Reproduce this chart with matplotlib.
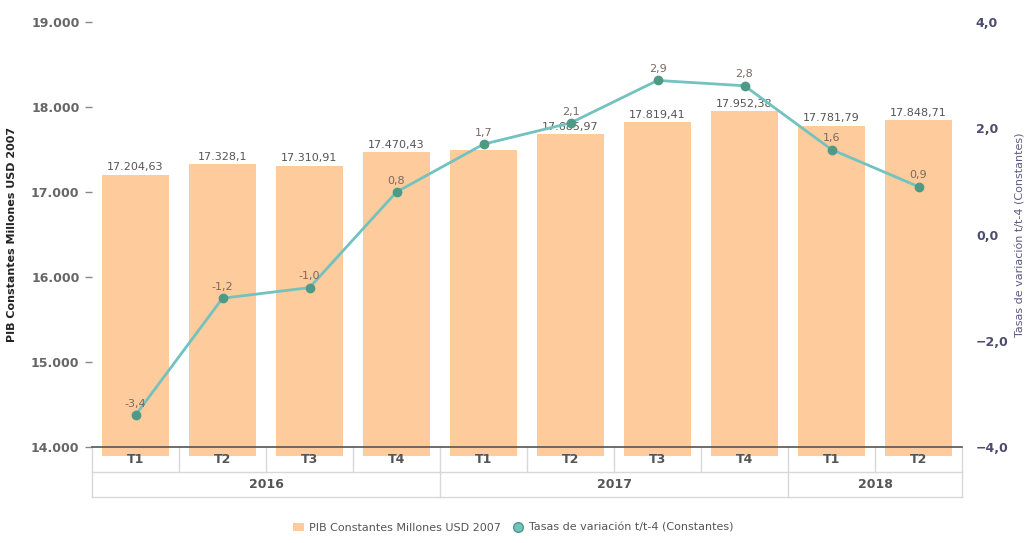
import numpy as np
import matplotlib.pyplot as plt
import matplotlib.transforms as mtransforms
from matplotlib.lines import Line2D
from matplotlib.patches import Patch

quarters = ["T1", "T2", "T3", "T4", "T1", "T2", "T3", "T4", "T1", "T2"]
years = ["2016", "2017", "2018"]
year_spans = [4, 4, 2]
pib = [17204.63, 17328.1, 17310.91, 17470.43, 17495.0, 17685.97, 17819.41, 17952.38, 17781.79, 17848.71]
pib_labels = ["17.204,63", "17.328,1", "17.310,91", "17.470,43", "", "17.685,97", "17.819,41", "17.952,38", "17.781,79", "17.848,71"]
tasas = [-3.4, -1.2, -1.0, 0.8, 1.7, 2.1, 2.9, 2.8, 1.6, 0.9]

bar_color = "#fdcb9c"
line_color = "#72c2bf"
marker_color = "#4f9a86"

fig = plt.figure(figsize=(10.26, 5.43), dpi=100)
ax = fig.add_axes([92 / 1026, 96 / 543, 870 / 1026, 425 / 543])
ax2 = ax.twinx()

x = np.arange(len(pib))
ax.bar(x, np.array(pib) - 13900, bottom=13900, width=0.78, color=bar_color, zorder=1, clip_on=False)
for xi, v, lab in zip(x, pib, pib_labels):
    ax.text(xi, v + 25, lab, ha="center", va="bottom", fontsize=8, color="#555555")

ax.set_xlim(-0.5, len(pib) - 0.5)
ax.set_ylim(14000, 19000)
ax.set_yticks(np.arange(14000, 19001, 1000))
ax.set_yticklabels(["14.000", "15.000", "16.000", "17.000", "18.000", "19.000"],
                   fontsize=9, fontweight="bold", color="#666666")
ax.tick_params(axis="y", length=5, width=1, color="#888888", pad=4)
ax.set_xticks([])
ax.set_ylabel("PIB Constantes Millones USD 2007", fontsize=8, fontweight="bold", color="#222222", labelpad=10)
for s in ["top", "right", "left"]:
    ax.spines[s].set_visible(False)
ax.spines["bottom"].set_color("#555555")
ax.spines["bottom"].set_linewidth(1.2)
ax.spines["bottom"].set_zorder(5)

ax2.plot(x, tasas, color=line_color, lw=2, zorder=3)
ax2.scatter(x, tasas, s=36, color=marker_color, zorder=4)
for xi, v in zip(x, tasas):
    ax2.text(xi, v + 0.12, f"{v:.1f}".replace(".", ","), ha="center", va="bottom",
             fontsize=8, color="#7a6860", zorder=5)
ax2.set_ylim(-4, 4)
ax2.set_yticks([-4, -2, 0, 2, 4])
ax2.set_yticklabels(["\u22124,0", "\u22122,0", "0,0", "2,0", "4,0"],
                    fontsize=9, fontweight="bold", color="#4c4c70")
ax2.tick_params(axis="y", length=0, pad=10)
ax2.set_ylabel("Tasas de variación t/t-4 (Constantes)", fontsize=8, color="#5a5a80", labelpad=5)
for s in ["top", "right", "left", "bottom"]:
    ax2.spines[s].set_visible(False)

# category table below the axis
trans = mtransforms.blended_transform_factory(ax.transData, ax.transAxes)
row1 = -25 / 425
row2 = -50 / 425
grid_c = "#d8d8d8"
for xi, q in zip(x, quarters):
    ax.text(xi, row1 / 2, q, transform=trans, ha="center", va="center",
            fontsize=9, fontweight="bold", color="#555555")
for b in np.arange(-0.5, len(pib), 1.0):
    ax.plot([b, b], [0, row1], transform=trans, color=grid_c, lw=1, clip_on=False)
ax.plot([-0.5, len(pib) - 0.5], [row1, row1], transform=trans, color=grid_c, lw=1, clip_on=False)
ax.plot([-0.5, len(pib) - 0.5], [row2, row2], transform=trans, color=grid_c, lw=1, clip_on=False)
start = -0.5
for yr, span in zip(years, year_spans):
    ax.plot([start, start], [row1, row2], transform=trans, color=grid_c, lw=1, clip_on=False)
    ax.text(start + span / 2, (row1 + row2) / 2, yr, transform=trans, ha="center", va="center",
            fontsize=9, fontweight="bold", color="#555555")
    start += span
ax.plot([start, start], [row1, row2], transform=trans, color=grid_c, lw=1, clip_on=False)

handles = [Patch(facecolor=bar_color, edgecolor="none", label="PIB Constantes Millones USD 2007"),
           Line2D([], [], marker="o", ls="none", markersize=7, markerfacecolor=line_color,
                  markeredgecolor=marker_color, label="Tasas de variación t/t-4 (Constantes)")]
fig.legend(handles=handles, loc="lower center", bbox_to_anchor=(0.5, 0.0), ncol=2, frameon=False,
           fontsize=8, labelcolor="#555555", handlelength=1.0, handletextpad=0.5, columnspacing=1.0)

fig.savefig("out.png", dpi=100)
